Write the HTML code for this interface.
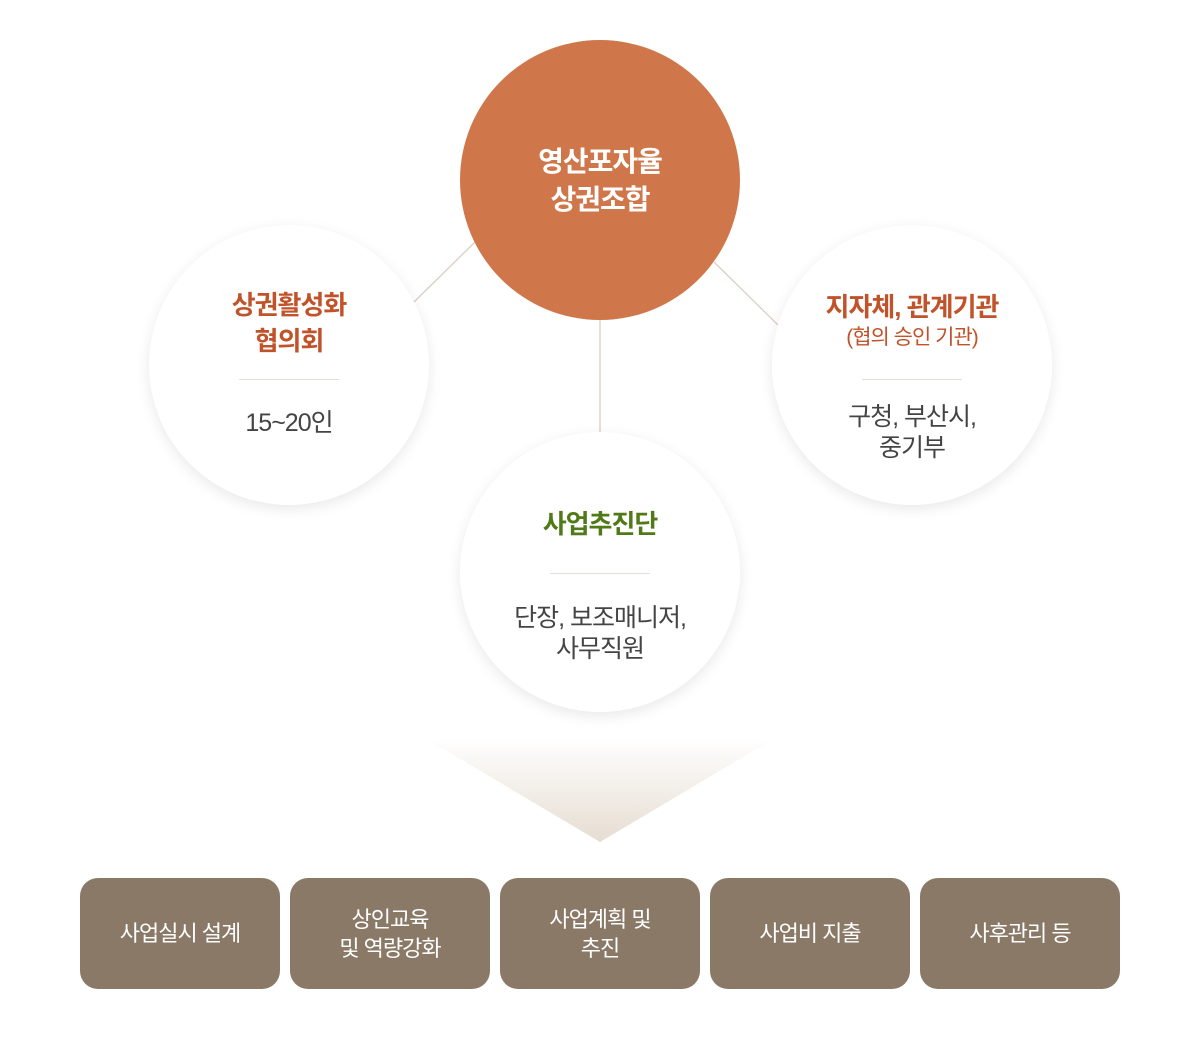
<!DOCTYPE html>
<html><head><meta charset="utf-8"><style>
body{margin:0;width:1200px;height:1050px;background:#fff;position:relative;overflow:hidden;font-family:"Liberation Sans","Noto Sans CJK KR",sans-serif;}
.c{position:absolute;width:280px;height:280px;border-radius:50%;background:#fff;box-shadow:0 4px 14px rgba(0,0,0,0.09);text-align:center;}
.t{position:absolute;left:0;right:0;font-weight:bold;color:#c0532a;font-size:26px;line-height:36px;letter-spacing:-1px}
.d{position:absolute;left:90px;width:100px;border-top:1px solid #e3e0dc}
.s{position:absolute;left:0;right:0;color:#444;font-size:25px;line-height:31px;letter-spacing:-1px}
.b{position:absolute;top:878px;width:200px;height:111px;border-radius:18px;background:#8b7968;color:#fff;font-size:22px;line-height:29px;display:flex;align-items:center;justify-content:center;text-align:center;letter-spacing:-1px}
</style></head><body>
<svg width="1200" height="1050" style="position:absolute;left:0;top:0">
<defs><linearGradient id="g" x1="0" y1="0" x2="0" y2="1"><stop offset="0" stop-color="#fff"/><stop offset="1" stop-color="#e6ddd2"/></linearGradient></defs>
<line x1="475" y1="242" x2="414" y2="302" stroke="#d9cfc4" stroke-width="1.3"/>
<line x1="714" y1="262" x2="778" y2="325" stroke="#d9cfc4" stroke-width="1.3"/>
<line x1="600" y1="320" x2="600" y2="432" stroke="#d9cfc4" stroke-width="1.3"/>
<polygon points="425,738 775,738 600,842" fill="url(#g)"/>
</svg>
<div class="c" style="left:149px;top:225px"><div class="t" style="top:62px">상권활성화<br>협의회</div><div class="d" style="top:154px"></div><div class="s" style="top:183px">15~20인</div></div>
<div class="c" style="left:772px;top:225px"><div class="t" style="top:64px">지자체, 관계기관</div><div class="t" style="top:99px;font-size:21px;font-weight:normal;line-height:28px">(협의 승인 기관)</div><div class="d" style="top:154px"></div><div class="s" style="top:177px">구청, 부산시,<br>중기부</div></div>
<div class="c" style="left:460px;top:432px"><div class="t" style="top:74px;color:#4f7a17">사업추진단</div><div class="d" style="top:141px"></div><div class="s" style="top:171px">단장, 보조매니저,<br>사무직원</div></div>
<div style="position:absolute;left:460px;top:40px;width:280px;height:280px;border-radius:50%;background:#cf774a;color:#fff;font-weight:bold;font-size:28px;line-height:38px;text-align:center;letter-spacing:-1px"><div style="position:absolute;left:0;right:0;top:103px">영산포자율<br>상권조합</div></div>
<div class="b" style="left:80px">사업실시 설계</div>
<div class="b" style="left:290px">상인교육<br>및 역량강화</div>
<div class="b" style="left:500px">사업계획 및<br>추진</div>
<div class="b" style="left:710px">사업비 지출</div>
<div class="b" style="left:920px">사후관리 등</div>
</body></html>
